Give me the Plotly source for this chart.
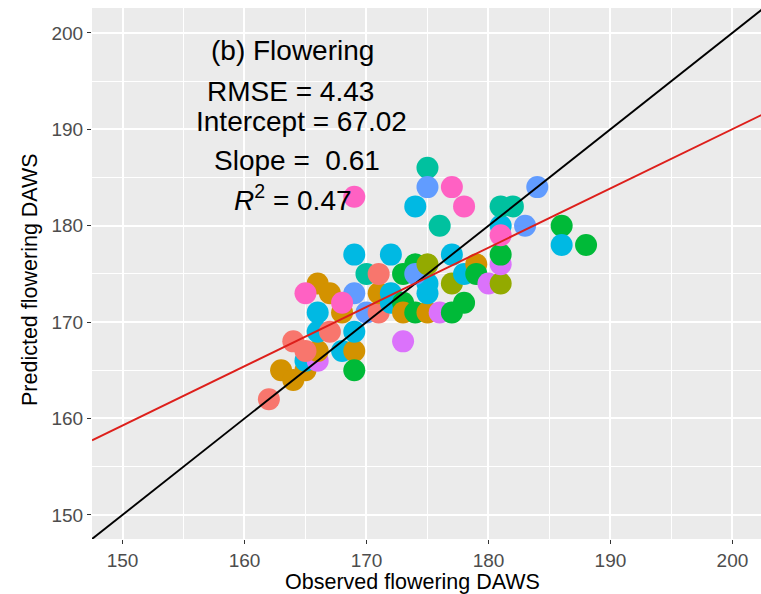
import plotly.graph_objects as go

# ---- data ----
observed = [162, 163, 164, 165, 165, 166, 166, 164, 165, 168, 169, 169, 166, 167, 169,
            166, 168, 170, 171, 166, 167, 165, 169, 168, 171, 172, 172, 173, 173, 174,
            175, 176, 177, 178, 175, 175, 173, 170, 171, 173, 174, 174, 175, 169, 172,
            177, 177, 178, 179, 179, 180, 181, 181, 181, 181, 181, 183, 181, 182, 184,
            186, 186, 188, 176, 174, 175, 175, 177, 178, 169]
predicted = [162, 165, 164, 165, 166, 166, 167, 168, 167, 167, 167, 165, 169, 169, 169,
             171, 171, 171, 171, 174, 173, 173, 173, 172, 173, 173, 172, 172, 171, 171,
             171, 171, 171, 172, 173, 174, 168, 175, 175, 175, 176, 175, 176, 177, 177,
             174, 177, 175, 176, 175, 174, 174, 176, 177, 180, 179, 180, 182, 182, 184,
             180, 178, 178, 180, 182, 186, 184, 184, 182, 183]
genotype = [0, 1, 1, 1, 5, 7, 1, 0, 0, 5, 1, 3, 5, 0, 5,
            5, 1, 6, 0, 1, 1, 8, 6, 8, 1, 5, 5, 3, 1, 3,
            1, 7, 3, 3, 5, 5, 7, 4, 0, 3, 3, 6, 2, 5, 5,
            2, 5, 5, 1, 3, 7, 2, 7, 3, 5, 8, 6, 4, 4, 6,
            3, 5, 3, 4, 5, 4, 6, 8, 8, 8]
palette = ["#F8766D", "#D39200", "#93AA00", "#00BA38", "#00C19F",
           "#00B9E3", "#619CFF", "#DB72FB", "#FF61C3"]

fit_intercept = 67.02
fit_slope = 0.615
axis_limits = [147.5, 202.45]
tick_values = [150, 160, 170, 180, 190, 200]

stat_lines = ["(b) Flowering", "RMSE = 4.43", "Intercept = 67.02",
              "Slope =  0.61", "<i>R</i><sup>2</sup> = 0.47"]
stat_x = [163.9, 163.8, 164.7, 164.3, 164.0]
stat_y = [198.2, 193.9, 190.8, 186.8, 182.9]

x_title = "Observed flowering DAWS"
y_title = "Predicted flowering DAWS"

FONT = "Liberation Sans, Arial, sans-serif"
W, H = 761, 594
ML, MR, MT, MB = 92, 0, 8, 55

fig = go.Figure()
fig.add_trace(go.Scatter(
    x=observed, y=predicted, mode="markers",
    marker=dict(size=22, color=[palette[g] for g in genotype], line=dict(width=0)),
    showlegend=False, hoverinfo="x+y"))

# 1:1 line
fig.add_trace(go.Scatter(x=axis_limits, y=axis_limits, mode="lines",
                         line=dict(color="black", width=1.9), showlegend=False))
# regression line
fig.add_trace(go.Scatter(x=axis_limits,
                         y=[fit_intercept + fit_slope * v for v in axis_limits],
                         mode="lines", line=dict(color="#DD1F1B", width=1.9),
                         showlegend=False))

for txt, tx, ty in zip(stat_lines, stat_x, stat_y):
    fig.add_annotation(x=tx, y=ty, text=txt, showarrow=False, xref="x", yref="y",
                       font=dict(family=FONT, size=28, color="black"))

# axis titles placed as annotations (reference panel is cropped on the right)
pw = W - ML - MR
ph = H - MT - MB
fig.add_annotation(text=x_title, showarrow=False, xref="paper", yref="paper",
                   x=(412 - ML) / pw, y=-(582 - (H - MB)) / ph,
                   xanchor="center", yanchor="middle",
                   font=dict(family=FONT, size=21.5, color="black"))
fig.add_annotation(text=y_title, showarrow=False, xref="paper", yref="paper",
                   x=-(ML - 30) / pw, y=1 - (280 - MT) / ph, textangle=-90,
                   xanchor="center", yanchor="middle",
                   font=dict(family=FONT, size=21.5, color="black"))

axis_common = dict(
    tickvals=tick_values, ticks="outside", ticklen=4, tickwidth=1.1, tickcolor="#333333",
    showgrid=True, gridcolor="white", gridwidth=1.6, zeroline=False, showline=False,
    tickfont=dict(family=FONT, size=19, color="#4D4D4D"),
    minor=dict(dtick=5, tick0=150, showgrid=True, gridcolor="white", gridwidth=0.7),
)

fig.update_layout(
    width=W, height=H,
    margin=dict(l=ML, r=MR, t=MT, b=MB),
    paper_bgcolor="white", plot_bgcolor="#EBEBEB",
    xaxis=dict(range=[147.5, 202.34], ticklabelstandoff=0, **axis_common),
    yaxis=dict(range=[147.5, 202.58], **axis_common),
)

fig.write_html("out.html")
